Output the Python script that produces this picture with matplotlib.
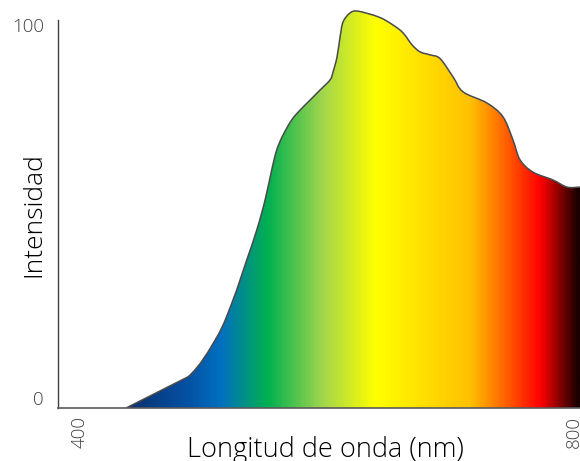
import numpy as np
import matplotlib
matplotlib.use("Agg")
import matplotlib.pyplot as plt
from matplotlib.colors import LinearSegmentedColormap
from matplotlib.patches import PathPatch
from matplotlib.path import Path

# ---- data ----
wavelength = [453.0, 487.8, 511.2, 524.2, 535.3, 543.4, 550.1, 555.5, 559.5, 564.6,
              571.7, 578.4, 586.5, 594.6, 602.7, 605.1, 608.3, 610.8, 613.2, 618.8,
              625.3, 642.3, 653.6, 661.7, 669.0, 675.5, 683.6, 691.7, 702.2, 710.3,
              729.7, 742.6, 750.7, 756.4, 766.9, 783.1, 794.4, 804.9]
intensity = [0.0, 5.8, 16.5, 26.4, 37.1, 45.1, 53.1, 61.2, 66.5, 70.5,
             74.6, 77.2, 79.9, 82.6, 85.3, 87.4, 91.4, 96.8, 100.8, 103.2,
             103.7, 102.1, 100.0, 97.9, 94.7, 92.8, 92.0, 91.0, 86.1, 82.1,
             79.1, 75.4, 69.2, 63.9, 60.6, 58.5, 56.6, 56.6]
xticks = [400, 800]
yticks = [0, 100]
xlabel = "Longitud de onda (nm)"
ylabel = "Intensidad"

# gradient stops (wavelength, colour)
grad_wl = [430, 488, 514, 552, 597, 640, 717, 774, 804]
grad_col = ["#0b2a66", "#0552a4", "#0070c0", "#00b050", "#a2d64c", "#ffff00",
            "#ffc000", "#ff0000", "#1a0000"]

plt.rcParams['font.family'] = ['Open Sans', 'DejaVu Sans']

fig = plt.figure(figsize=(5.8, 4.61), dpi=100)
ax = fig.add_axes([0.1, 0.115, 0.9, 0.8807])
xmin, xmax = 382.6, 804.9
ybot, ytop = -2.54, 106.16
ax.set_xlim(xmin, xmax)
ax.set_ylim(ybot, ytop)

wl = np.array(wavelength)
iv = np.array(intensity)
pts = np.column_stack([wl, iv])

# extend first segment down to the axis baseline
slope = (iv[1] - iv[0]) / (wl[1] - wl[0])
x_start = wl[0] + (ybot - iv[0]) / slope
start = np.array([x_start, ybot])

# straight ramp for the first segment, then a smooth (Catmull-Rom -> Bezier) path
verts = [start, pts[0], pts[1]]
codes = [Path.MOVETO, Path.LINETO, Path.LINETO]
n = len(pts)
for i in range(1, n - 1):
    p0 = pts[i - 1]
    p1, p2 = pts[i], pts[i + 1]
    p3 = pts[i + 2] if i + 2 < n else pts[i + 1]
    c1 = p1 + (p2 - p0) / 6.0
    c2 = p2 - (p3 - p1) / 6.0
    verts += [c1, c2, p2]
    codes += [Path.CURVE4] * 3

fill_verts = list(verts) + [np.array([wl[-1], ybot]), start]
fill_codes = list(codes) + [Path.LINETO, Path.CLOSEPOLY]
fill_path = Path(np.array(fill_verts), fill_codes)
clip_patch = PathPatch(fill_path, facecolor='none', edgecolor='none', transform=ax.transData)
ax.add_patch(clip_patch)

pos = [min(max((w - xmin) / (xmax - xmin), 0.0), 1.0) for w in grad_wl]
stops = [(0.0, grad_col[0])] + list(zip(pos, grad_col)) + [(1.0, grad_col[-1])]
clean = []
for p, c in stops:
    if clean and p <= clean[-1][0]:
        continue
    clean.append((p, c))
if clean[-1][0] < 1.0:
    clean.append((1.0, grad_col[-1]))
cmap = LinearSegmentedColormap.from_list('spec', clean)
grad = np.linspace(0, 1, 600).reshape(1, -1)
im = ax.imshow(grad, extent=[xmin, xmax, ybot, ytop], aspect='auto', cmap=cmap,
               origin='lower', interpolation='bilinear', zorder=1)
im.set_clip_path(clip_patch)

outline = PathPatch(Path(np.array(verts), codes), facecolor='none', edgecolor='#4a4a4a',
                    lw=1.1, zorder=3, transform=ax.transData)
ax.add_patch(outline)

for s in ['top', 'right']:
    ax.spines[s].set_visible(False)
ax.spines['left'].set_bounds(ybot, 101.3)
ax.spines['left'].set_color('#404040')
ax.spines['left'].set_linewidth(1.0)
ax.spines['bottom'].set_color('#5a5a5a')
ax.spines['bottom'].set_linewidth(1.2)
ax.spines['bottom'].set_zorder(4)

ax.set_xticks(xticks)
ax.set_xticklabels([str(t) for t in xticks], rotation=90, fontsize=13.5,
                   color='#404040', fontweight='light')
ax.set_yticks(yticks)
ax.set_yticklabels([str(t) for t in yticks], fontsize=13.5, color='#404040',
                   fontweight='light')
ax.tick_params(axis='x', length=0, pad=6)
ax.tick_params(axis='y', length=0, pad=10)

fig.text(325 / 580, 1 - 457 / 461, xlabel, ha='center', va='baseline', fontsize=19.5,
         color='black', fontweight='light')
fig.text(34 / 580, 1 - 215 / 461, ylabel, ha='center', va='center', rotation=90,
         fontsize=19, color='black', fontweight='light')

fig.savefig('out.png', dpi=100)
